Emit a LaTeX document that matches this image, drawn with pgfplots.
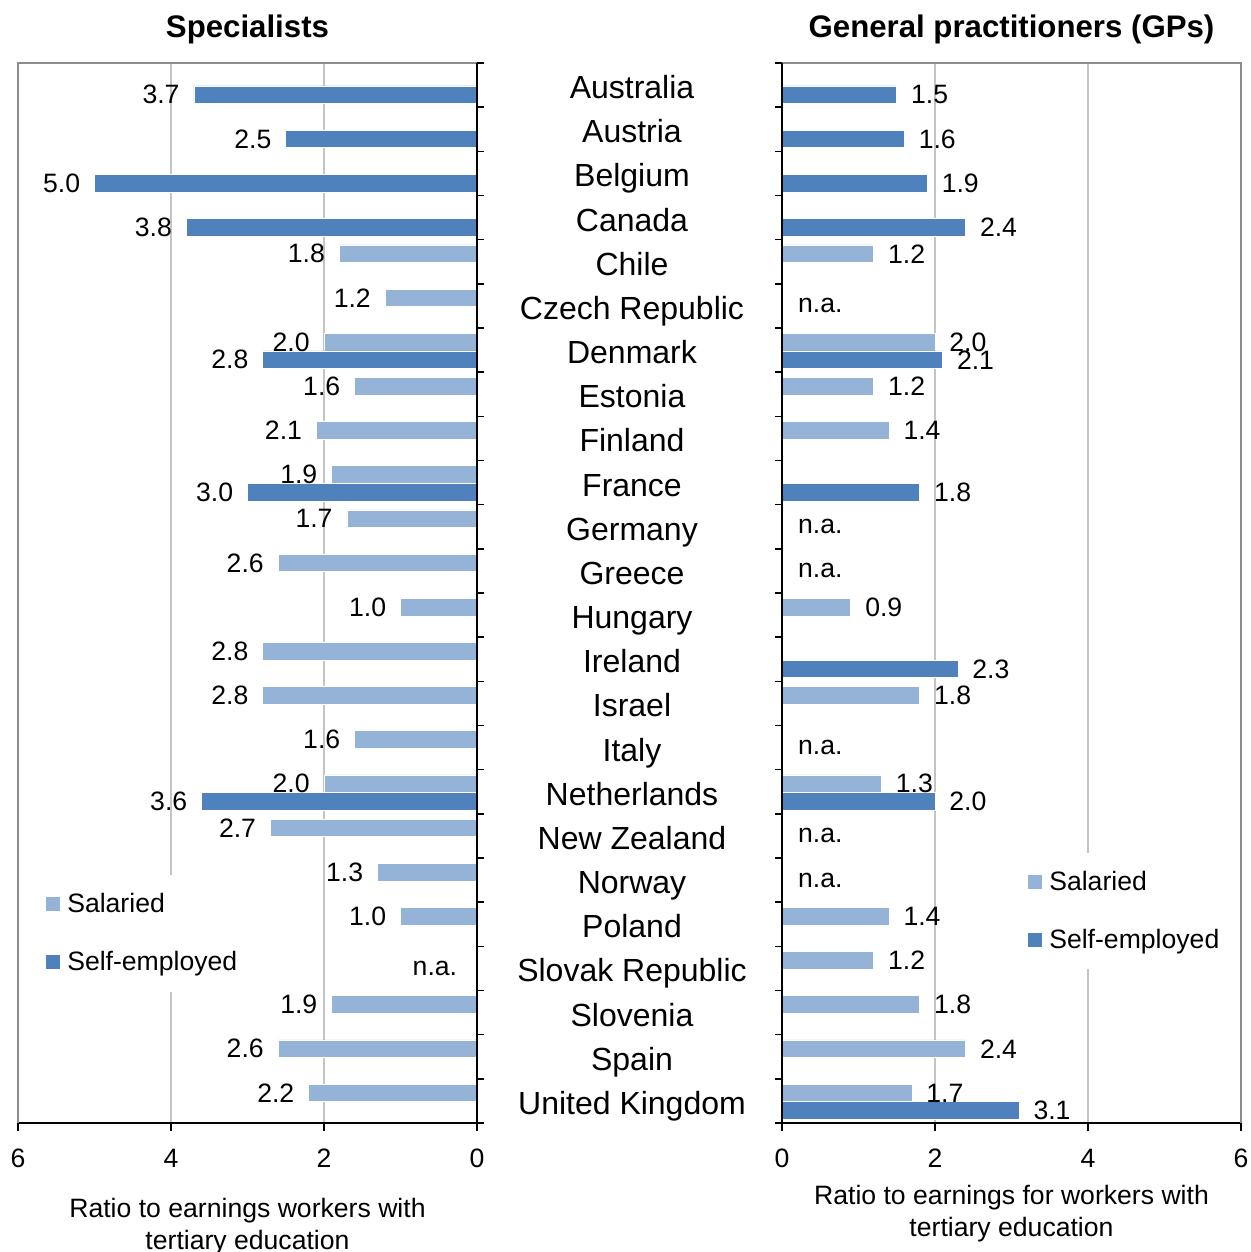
\documentclass[border=0pt]{standalone}
\usepackage{fontspec}
\setmainfont{Liberation Sans}
\usepackage{pgfplots}
\usepackage{pgfplotstable}
\pgfplotsset{compat=1.18}

\definecolor{salaried}{HTML}{95B3D7}
\definecolor{selfemp}{HTML}{4F81BD}
\definecolor{framegray}{HTML}{8C8C8C}
\definecolor{gridgray}{HTML}{C4C4C4}

% position 23 = Australia (top) ... 0 = United Kingdom (bottom)
\pgfplotstableread{
pos val
19 1.8
18 1.2
17 2.0
16 1.6
15 2.1
14 1.9
13 1.7
12 2.6
11 1.0
10 2.8
9  2.8
8  1.6
7  2.0
6  2.7
5  1.3
4  1.0
2  1.9
1  2.6
0  2.2
}\specSal

\pgfplotstableread{
pos val
23 3.7
22 2.5
21 5.0
20 3.8
17 2.8
14 3.0
7  3.6
}\specSelf

\pgfplotstableread{
pos val
19 1.2
17 2.0
16 1.2
15 1.4
11 0.9
9  1.8
7  1.3
4  1.4
3  1.2
2  1.8
1  2.4
0  1.7
}\gpSal

\pgfplotstableread{
pos val
23 1.5
22 1.6
21 1.9
20 2.4
17 2.1
14 1.8
10 2.3
7  2.0
0  3.1
}\gpSelf

\newcommand{\lblfont}{\fontsize{13.3}{15.8}\selectfont}

\pgfplotsset{
  panel/.style={
    scale only axis, width=229.5pt, height=530pt,
    xmin=0, xmax=6, ymin=-0.5, ymax=23.5,
    enlargelimits=false, clip=false,
    xtick={0,2,4,6},
    ytick={0,...,23},
    minor ytick={-0.5,0.5,...,23.5},
    major y tick style={draw=none},
    tick align=outside,
    major tick length=4pt, minor tick length=3.5pt,
    tick style={black, line width=0.8pt},
    xmajorgrids, grid style={gridgray, line width=0.9pt},
    axis x line*=bottom,
    axis line style={-, black, line width=0.9pt},
    every outer x axis line/.append style={-},
    every outer y axis line/.append style={-},
    /pgf/number format/assume math mode=true,
    ticklabel style={font=\lblfont},
    xticklabel style={yshift=-5.5pt},
    xbar, bar width=0.4, point meta=x,
    nodes near coords={\pgfmathprintnumber[fixed,fixed zerofill,precision=1]{\pgfplotspointmeta}},
    every node near coord/.append style={font=\lblfont, inner sep=0pt, black},
    title style={font=\bfseries\fontsize{15.6}{18}\selectfont, anchor=base,
      at={(axis description cs:0.5,1)}, yshift=7pt},
    xlabel style={font=\lblfont, align=center, anchor=north, inner sep=0pt},
    legend style={draw=none, fill=white, anchor=west, font=\lblfont,
      inner xsep=2pt, inner ysep=7pt, row sep=14pt,
      /tikz/every odd column/.append style={column sep=1.5pt}},
    legend cell align=left,
    legend image code/.code={\fill[#1,draw=none] (0pt,-3.5pt) rectangle (7pt,3.5pt);},
  },
  sal/.style={fill=salaried, draw=white, line width=0.4pt, bar shift=0.18},
  se/.style={fill=selfemp, draw=white, line width=0.4pt, bar shift=-0.22},
}

\begin{document}
\begin{tikzpicture}
\path[use as bounding box] (0,0) rectangle (625pt,-626pt);

% Specialists
\begin{axis}[panel, x dir=reverse,
  at={(9pt,-31.5pt)}, anchor=north west,
  axis y line*=right, yticklabel={\phantom{0}},
  title={Specialists},
  xlabel={Ratio to earnings workers with\\tertiary education},
  xlabel style={at={(axis description cs:0.5,0)}, yshift=-37.5pt},
  every node near coord/.append style={anchor=east, xshift=-7pt},
  legend style={at={(axis description cs:0.052,0.179)}},
]
\addplot[sal] table[x=val, y=pos] {\specSal};
\addplot[se] table[x=val, y=pos] {\specSelf};
\legend{Salaried, Self-employed}
\node[font=\lblfont] at (axis cs:0.55,3) {n.a.};
\draw[framegray, line width=1pt] (axis description cs:0,0) -- (axis description cs:0,1) -- (axis description cs:1,1);
\draw[black, line width=0.9pt] (axis cs:0,-0.5) -- (axis cs:0,23.5);
\end{axis}

% General practitioners
\begin{axis}[panel,
  at={(391pt,-31.5pt)}, anchor=north west,
  axis y line*=left,
  yticklabels={United Kingdom, Spain, Slovenia, Slovak Republic, Poland, Norway,
    New Zealand, Netherlands, Italy, Israel, Ireland, Hungary, Greece, Germany,
    France, Finland, Estonia, Denmark, Czech Republic, Chile, Canada, Belgium,
    Austria, Australia},
  yticklabel style={font=\fontsize{16}{19}\selectfont, anchor=center,
    text height=11.5pt, text depth=0pt, xshift=-71pt, yshift=-1pt},
  title={General practitioners (GPs)},
  xlabel={Ratio to earnings for workers with\\tertiary education},
  xlabel style={at={(axis description cs:0.5,0)}, yshift=-31pt},
  every node near coord/.append style={anchor=west, xshift=7pt},
  legend style={at={(axis description cs:0.527,0.2)}},
]
\addplot[sal] table[x=val, y=pos] {\gpSal};
\addplot[se] table[x=val, y=pos] {\gpSelf};
\legend{Salaried, Self-employed}
\node[font=\lblfont] at (axis cs:0.5,18) {n.a.};
\node[font=\lblfont] at (axis cs:0.5,13) {n.a.};
\node[font=\lblfont] at (axis cs:0.5,12) {n.a.};
\node[font=\lblfont] at (axis cs:0.5,8) {n.a.};
\node[font=\lblfont] at (axis cs:0.5,6) {n.a.};
\node[font=\lblfont] at (axis cs:0.5,5) {n.a.};
\draw[framegray, line width=1pt] (axis description cs:0,1) -- (axis description cs:1,1) -- (axis description cs:1,0);
\draw[black, line width=0.9pt] (axis cs:0,-0.5) -- (axis cs:0,23.5);
\end{axis}
\end{tikzpicture}
\end{document}
